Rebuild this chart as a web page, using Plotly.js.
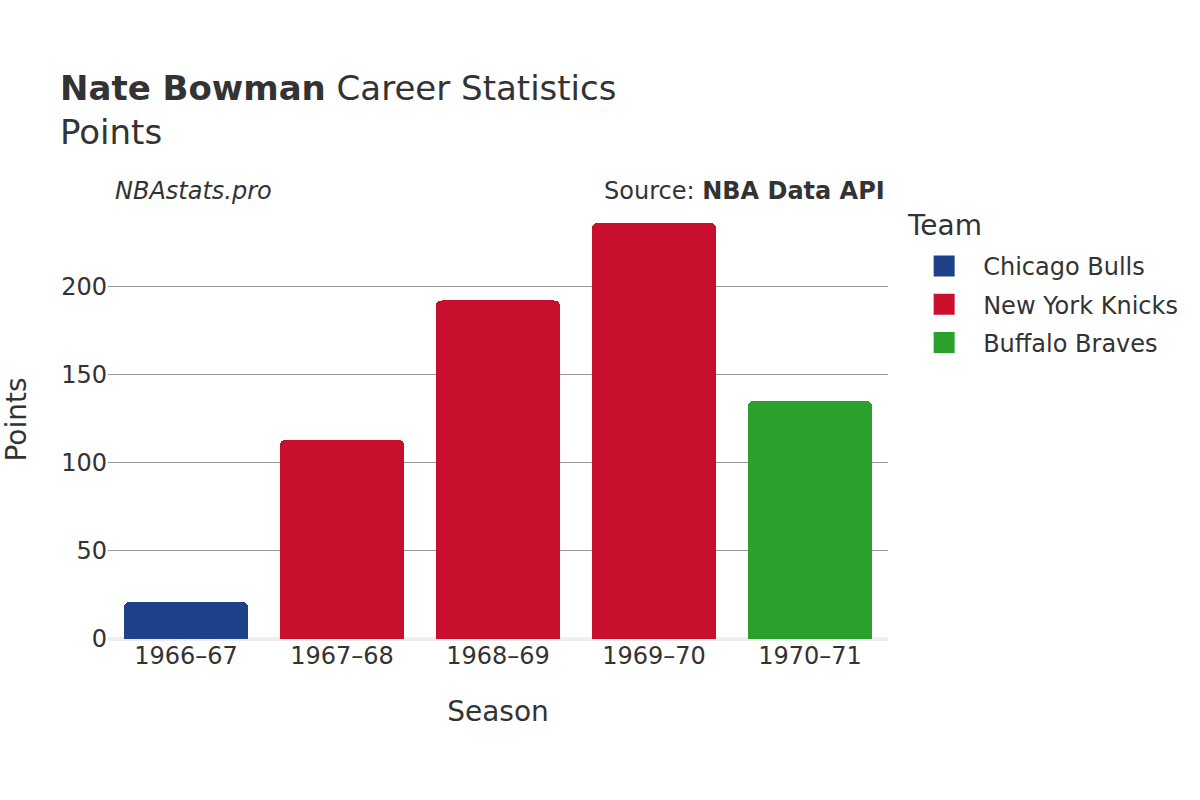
<!DOCTYPE html>
<html>
<head>
<meta charset="utf-8">
<script src="https://cdn.plot.ly/plotly-3.0.1.min.js"></script>
<style>html,body{margin:0;padding:0;background:#fff;}#chart{width:1200px;height:800px;}</style>
</head>
<body>
<div id="chart"></div>
<script>
const seasons = ["1966–67", "1967–68", "1968–69", "1969–70", "1970–71"];
const teams = ["Chicago Bulls", "New York Knicks", "Buffalo Braves"];
const teamColors = ["#1D428A", "#C8102E", "#2CA02C"];
const seasonTeam = ["Chicago Bulls", "New York Knicks", "New York Knicks", "New York Knicks", "Buffalo Braves"];
const points = [21, 113, 192, 236, 135];

const barTraces = teams.map((t, i) => {
  const xs = [], ys = [];
  seasons.forEach((s, j) => { if (seasonTeam[j] === t) { xs.push(s); ys.push(points[j]); } });
  return {
    type: "bar", name: t, x: xs, y: ys,
    marker: { color: teamColors[i], cornerradius: 6 },
    showlegend: false, legendgroup: t
  };
});
const legendTraces = teams.map((t, i) => ({
  type: "scatter", mode: "markers", name: t, x: [seasons[0]], y: [null],
  marker: { symbol: "square", size: 16, color: teamColors[i], line: { color: teamColors[i], width: 5 } },
  showlegend: true, legendgroup: t
}));

const font = "DejaVu Sans, sans-serif";
const layout = {
  width: 1200, height: 800,
  paper_bgcolor: "#fff", plot_bgcolor: "#fff",
  font: { family: font, color: "#333", size: 24 },
  barmode: "stack",
  bargap: 0.2,
  margin: { l: 108, r: 312, t: 200, b: 161 },
  title: {
    text: "<b>Nate Bowman</b> Career Statistics<br>Points",
    x: 60 / 1200, xanchor: "left", xref: "container",
    y: 0.875, yanchor: "top", yref: "container",
    font: { family: font, size: 34, color: "#333" }
  },
  xaxis: {
    categoryorder: "array", categoryarray: seasons,
    title: { text: "Season", font: { size: 28, color: "#333" }, standoff: 32 },
    tickfont: { size: 24, color: "#333" },
    showgrid: false, ticks: "", showline: false
  },
  yaxis: {
    title: { text: "Points", font: { size: 28, color: "#333" }, standoff: 30 },
    tickfont: { size: 24, color: "#333" },
    range: [0, 249],
    tickvals: [0, 50, 100, 150, 200],
    showgrid: true, gridcolor: "#999", gridwidth: 1,
    zeroline: true, zerolinecolor: "#eee", zerolinewidth: 4,
    ticks: "", ticklen: 0
  },
  legend: {
    font: { size: 24, color: "#333" },
    x: 1.022, xanchor: "left", y: 0.900, yanchor: "top",
    traceorder: "grouped", tracegroupgap: 4,
    itemwidth: 68
  },
  annotations: [
    { text: "Team", xref: "paper", yref: "paper", x: 1.022, y: 0.941, xanchor: "left", yanchor: "middle", showarrow: false, font: { size: 28, color: "#333" } },
    { text: "<i>NBAstats.pro</i>", xref: "paper", yref: "paper", x: 0.007, y: 1.0, xanchor: "left", yanchor: "bottom", showarrow: false, font: { size: 24, color: "#333" }, yshift: -7 },
    { text: "Source: <b>NBA Data API</b>", xref: "paper", yref: "paper", x: 0.999, y: 1.0, xanchor: "right", yanchor: "bottom", showarrow: false, font: { size: 24, color: "#333" }, yshift: -7 }
  ]
};

Plotly.newPlot("chart", barTraces.concat(legendTraces), layout, { displayModeBar: false, staticPlot: true });
</script>
</body>
</html>
